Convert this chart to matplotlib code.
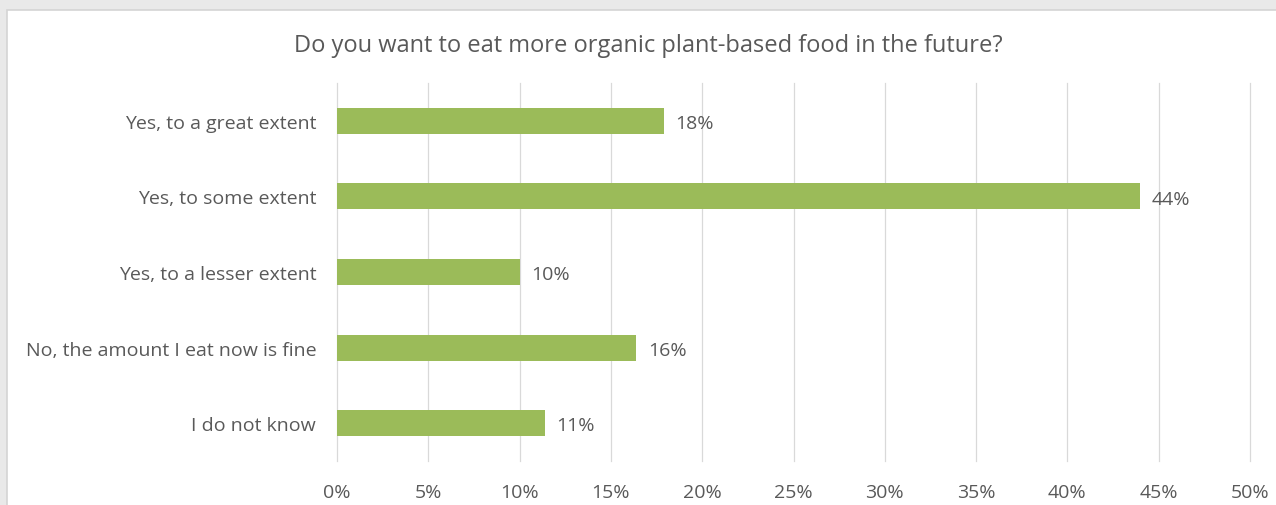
import matplotlib.pyplot as plt
from matplotlib.patches import Rectangle

# Survey answers (top to bottom) and shares in percent
categories = ['Yes, to a great extent', 'Yes, to some extent', 'Yes, to a lesser extent',
              'No, the amount I eat now is fine', 'I do not know']
values = [17.9, 44.0, 10.0, 16.4, 11.4]
labels = ['18%', '44%', '10%', '16%', '11%']
xticks = [0, 5, 10, 15, 20, 25, 30, 35, 40, 45, 50]

plt.rcParams['font.family'] = ['Open Sans', 'DejaVu Sans']
text_col = '#595959'

fig = plt.figure(figsize=(12.76, 5.06), dpi=100, facecolor='#E9E9E9')
# white chart area with thin light border
fig.patches.append(Rectangle((7 / 1276, -0.1), 1.1, 1.1 - 11 / 506, transform=fig.transFigure,
                             facecolor='white', edgecolor='#D4D4D4', linewidth=1.2, zorder=-5))

ax = fig.add_axes([337 / 1276, 1 - 462 / 506, (1250 - 337) / 1276, (462 - 84) / 506])
ax.set_facecolor('none')
ax.set_zorder(2)

ypos = list(range(len(categories)))
ax.barh(ypos, values, height=0.345, color='#9BBB59', zorder=3)
for y, v, lab in zip(ypos, values, labels):
    ax.text(v + 0.62, y + 0.03, lab, va='center', ha='left', fontsize=14, color=text_col)

ax.set_ylim(len(categories) - 0.5, -0.5)
ax.set_xlim(0, 50)
ax.set_yticks(ypos)
ax.set_yticklabels(categories, fontsize=14, color=text_col)
ax.set_xticks(xticks)
ax.set_xticklabels([f'{t}%' for t in xticks], fontsize=14, color=text_col)
ax.tick_params(length=0, axis='y', pad=15)
ax.tick_params(length=0, axis='x', pad=16)
ax.grid(axis='x', color='#D9D9D9', linewidth=0.9, zorder=0)
for gl in ax.get_xgridlines():
    gl.set_clip_on(False)
for s in ax.spines.values():
    s.set_visible(False)

fig.text(648 / 1276, 1 - 46 / 506,
         'Do you want to eat more organic plant-based food in the future?',
         ha='center', va='center', fontsize=17, color=text_col)

fig.savefig('out.png', dpi=100, facecolor=fig.get_facecolor())
